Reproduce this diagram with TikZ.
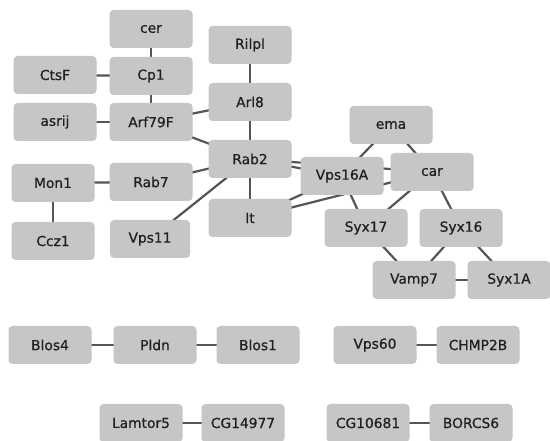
\documentclass[tikz,border=0pt]{standalone}
\usepackage{fontspec}
\setmainfont{DejaVu Sans}[FakeBold=0.6]
\usetikzlibrary{backgrounds}
\definecolor{boxfill}{HTML}{C6C6C6}
\definecolor{edgecol}{HTML}{555555}
\begin{document}
\begin{tikzpicture}[x=1pt,y=-1pt,
  gene/.style={fill=boxfill,rounded corners=4pt,minimum width=83pt,minimum height=38pt,inner sep=0pt,font=\fontsize{13.8}{15}\selectfont,text=black!88},
  link/.style={draw=edgecol,line width=2.2pt}]
\useasboundingbox (0,0) rectangle (550,441);
\node[gene] (cer) at (151,29) {cer};
\node[gene] (rilpl) at (250,45) {Rilpl};
\node[gene] (ctsf) at (55,75) {CtsF};
\node[gene] (cp1) at (151,76) {Cp1};
\node[gene] (arl8) at (250,102) {Arl8};
\node[gene] (asrij) at (55,122) {asrij};
\node[gene] (arf) at (151,122) {Arf79F};
\node[gene] (rab2) at (250,159) {Rab2};
\node[gene] (mon1) at (53,183) {Mon1};
\node[gene] (rab7) at (151,182) {Rab7};
\node[gene] (it) at (250,218) {It};
\node[gene] (ccz1) at (53,241) {Ccz1};
\node[gene,minimum width=80pt] (vps11) at (150,239) {Vps11};
\node[gene] (ema) at (391,125) {ema};
\node[gene] (vps16a) at (342,176) {Vps16A};
\node[gene] (car) at (432,172) {car};
\node[gene] (syx17) at (366,228) {Syx17};
\node[gene] (syx16) at (461,228) {Syx16};
\node[gene] (vamp7) at (414,280) {Vamp7};
\node[gene] (syx1a) at (509,280) {Syx1A};
\node[gene] (blos4) at (50,345) {Blos4};
\node[gene] (pldn) at (155,345) {Pldn};
\node[gene] (blos1) at (258,345) {Blos1};
\node[gene] (vps60) at (375,345) {Vps60};
\node[gene] (chmp) at (478,345) {CHMP2B};
\node[gene] (lamtor) at (141,423) {Lamtor5};
\node[gene] (cg149) at (243,423) {CG14977};
\node[gene] (cg106) at (368,423) {CG10681};
\node[gene] (borcs) at (471,423) {BORCS6};
\begin{scope}[on background layer]
\fill[white] (0,0) rectangle (550,441);
\foreach \a/\b in {cer/cp1,ctsf/cp1,cp1/arf,asrij/arf,arf/arl8,arf/rab2,rilpl/arl8,arl8/rab2,
  rab7/rab2,mon1/rab7,mon1/ccz1,vps11/rab2,rab2/it,rab2/vps16a,rab2/car,it/vps16a,it/car,
  ema/vps16a,ema/car,vps16a/syx17,car/syx17,car/syx16,syx17/vamp7,syx16/vamp7,syx16/syx1a,
  vamp7/syx1a,blos4/pldn,pldn/blos1,vps60/chmp,lamtor/cg149,cg106/borcs}
  \draw[link] (\a.center) -- (\b.center);
\end{scope}
\end{tikzpicture}
\end{document}
